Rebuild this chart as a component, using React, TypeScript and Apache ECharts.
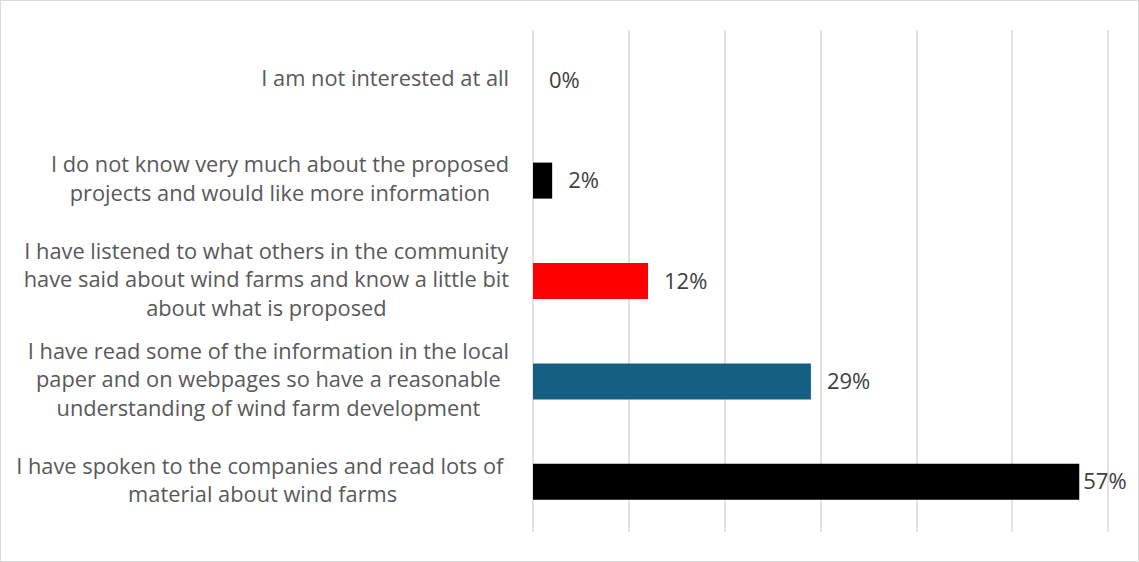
import React, { useEffect, useRef } from "react";
import * as echarts from "echarts";

// Survey answers, listed top to bottom
const categories: string[] = [
  "I am not interested at all",
  "I do not know very much about the proposed\nprojects and would like more information",
  "I have listened to what others in the community\nhave said about wind farms and know a little bit\nabout what is proposed",
  "I have read some of the information in the local\npaper and on webpages so have a reasonable\nunderstanding of wind farm development",
  "I have spoken to the companies and read lots of \nmaterial about wind farms",
];

// Share of respondents, in percent
const values: number[] = [0, 2, 12, 29, 57];

const barColors: string[] = ["#000000", "#000000", "#FF0000", "#156082", "#000000"];

const FONT = '"Open Sans", "Liberation Sans", sans-serif';

export default function App() {
  const ref = useRef<HTMLDivElement>(null);

  useEffect(() => {
    document.body.style.margin = "0";
    if (!ref.current) return;
    const chart = echarts.init(ref.current, undefined, { renderer: "svg" });

    const data = values.map((v, i) => ({
      value: v,
      itemStyle: { color: barColors[i] },
      label: { distance: i === values.length - 1 ? 4 : 16 },
    }));

    chart.setOption({
      animation: false,
      grid: { left: 532, right: 30, top: 29, bottom: 29, containLabel: false },
      xAxis: {
        type: "value",
        min: 0,
        max: 60,
        interval: 10,
        axisLabel: { show: false },
        axisLine: { show: false },
        axisTick: { show: false },
        splitLine: { show: true, lineStyle: { color: "#d9d9d9", width: 1.5 } },
      },
      yAxis: {
        type: "category",
        inverse: true,
        data: categories,
        axisLine: { show: false },
        axisTick: { show: false },
        axisLabel: {
          margin: 24,
          align: "right",
          padding: [0, 0, 5, 0],
          formatter: (txt: string) =>
            txt
              .split("\n")
              .map((l) => `{c|${l}}`)
              .join("\n"),
          rich: {
            c: {
              align: "center",
              fontFamily: FONT,
              fontSize: 21.8,
              lineHeight: 28.5,
              color: "#595959",
            },
          },
        },
      },
      series: [
        {
          type: "bar",
          data,
          barWidth: 36,
          label: {
            show: true,
            position: "right",
            offset: [0, -1.5],
            formatter: (p: any) => `${p.value}%`,
            fontFamily: FONT,
            fontSize: 22,
            color: "#404040",
          },
        },
      ],
    });

    return () => chart.dispose();
  }, []);

  return (
    <div
      ref={ref}
      style={{
        width: 1139,
        height: 562,
        boxSizing: "border-box",
        border: "1px solid #d9d9d9",
        background: "#ffffff",
      }}
    />
  );
}
